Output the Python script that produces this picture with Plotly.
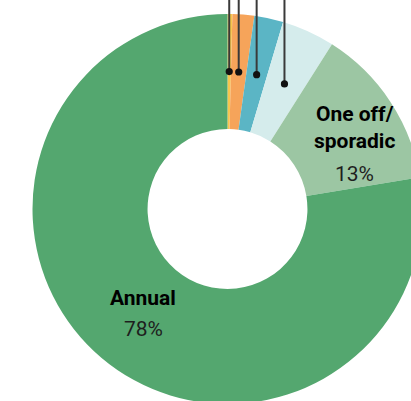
import math
import plotly.graph_objects as go

# ---- data ----
categories = ["Weekly", "Monthly", "Quarterly", "Biannual", "One off/<br>sporadic", "Annual"]
shares = [0.4, 1.8, 2.4, 4.4, 13.4, 77.6]
colors = ["#f8c64e", "#f6a45a", "#5bb5c5", "#d5ecec", "#9cc6a3", "#54a76f"]
labelled = ["One off/<br>sporadic", "Annual"]
leader_cats = ["Weekly", "Monthly", "Quarterly", "Biannual"]

# ---- layout geometry (pixels) ----
W, H = 430, 410
cx, cy, R = 227.5, 209.0, 195.0
hole = 0.41

fig = go.Figure(go.Pie(
    labels=categories,
    values=shares,
    sort=False,
    direction="clockwise",
    rotation=0,
    hole=hole,
    marker=dict(colors=colors, line=dict(width=0)),
    textinfo="none",
    hoverinfo="none",
    showlegend=False,
    domain=dict(x=[(cx - R) / W, (cx + R) / W], y=[1 - (cy + R) / H, 1 - (cy - R) / H]),
))

def px2paper(x, y):
    return x / W, 1 - y / H

total = sum(shares)
cum = 0.0
shapes = []
annotations = []
rmid = R * (1 + hole) / 2
label_pos = {
    "One off/<br>sporadic": (354, 127, 174.5),
    "Annual": (143, 297.5, 328.5),
}
for cat, v in zip(categories, shares):
    mid = (cum + v / 2) / total
    cum += v
    ang = 2 * math.pi * mid
    if cat in leader_cats:
        x = cx + rmid * math.sin(ang)
        y = cy - rmid * math.cos(ang)
        px, py = px2paper(x, y)
        shapes.append(dict(type="line", xref="paper", yref="paper",
                           x0=px, x1=px, y0=py, y1=1.0,
                           line=dict(color="#3a3a3a", width=2)))
        r = 3.6
        shapes.append(dict(type="circle", xref="paper", yref="paper",
                           x0=(x - r) / W, x1=(x + r) / W,
                           y0=1 - (y + r) / H, y1=1 - (y - r) / H,
                           fillcolor="#111111", line=dict(width=0)))
    if cat in labelled:
        lx, ny, py_ = label_pos[cat]
        ax, ay = px2paper(lx, ny)
        annotations.append(dict(x=ax, y=ay, xref="paper", yref="paper",
                                text="<b>" + cat + "</b>", showarrow=False,
                                xanchor="center", yanchor="middle",
                                font=dict(family="Roboto", size=21, color="#000000")))
        ax, ay = px2paper(lx, py_)
        annotations.append(dict(x=ax, y=ay, xref="paper", yref="paper",
                                text=f"{round(v)}%", showarrow=False,
                                xanchor="center", yanchor="middle",
                                font=dict(family="Roboto", size=21, color="#1e1e1e")))

fig.update_layout(
    width=W, height=H,
    margin=dict(l=0, r=0, t=0, b=0),
    paper_bgcolor="white", plot_bgcolor="white",
    shapes=shapes, annotations=annotations,
)

fig.write_html("out.html", config={"displayModeBar": False}, post_script=(
    "document.body.style.margin='0';"
    "document.body.style.overflow='hidden';"
    "document.documentElement.style.overflow='hidden';"
))
